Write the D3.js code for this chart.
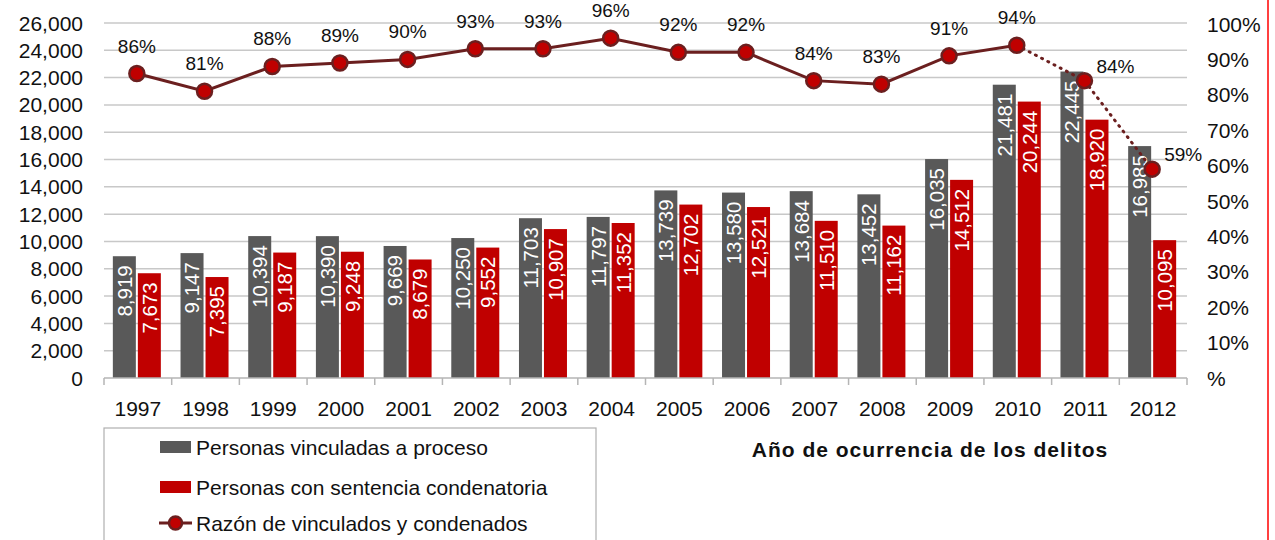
<!DOCTYPE html>
<html>
<head>
<meta charset="utf-8">
<script src="https://cdn.jsdelivr.net/npm/d3@7"></script>
<style>
  html, body { margin: 0; padding: 0; background: #fff; }
  svg { display: block; font-family: "Liberation Sans", Arial, sans-serif; }
</style>
</head>
<body>
<svg id="chart" width="1275" height="540"></svg>
<script>
// Años de ocurrencia de los delitos
const years = ["1997","1998","1999","2000","2001","2002","2003","2004","2005","2006","2007","2008","2009","2010","2011","2012"];
// Personas vinculadas a proceso
const vinculadas = [8919, 9147, 10394, 10390, 9669, 10250, 11703, 11797, 13739, 13580, 13684, 13452, 16035, 21481, 22445, 16985];
// Personas con sentencia condenatoria
const condenadas = [7673, 7395, 9187, 9248, 8679, 9552, 10907, 11352, 12702, 12521, 11510, 11162, 14512, 20244, 18920, 10095];
// Razón de vinculados y condenados (%)
const razon = [86, 81, 88, 89, 90, 93, 93, 96, 92, 92, 84, 83, 91, 94, 84, 59];
// Índice desde el cual el tramo de línea es punteado
const dottedFrom = 13;

const leftTicks = d3.range(0, 26001, 2000);
const rightTicks = d3.range(0, 101, 10);
const seriesNames = ["Personas vinculadas a proceso", "Personas con sentencia condenatoria", "Razón de vinculados y condenados"];
const axisTitle = "Año de ocurrencia de los delitos";

const GREY = "#595959", RED = "#c00000", LINE = "#6b1f1f", GRID = "#c8c8c8";

const svg = d3.select("#chart");
const plot = { left: 104, right: 1187, top: 23, bottom: 378 };

const x = d3.scaleBand().domain(years).range([plot.left, plot.right]).paddingInner(0).paddingOuter(0);
const y = d3.scaleLinear().domain([0, 26000]).range([plot.bottom, plot.top]);
const yr = d3.scaleLinear().domain([0, 100]).range([plot.bottom, plot.top + 1]);

// Horizontal gridlines
svg.append("g").selectAll("line").data(leftTicks.slice(1)).join("line")
  .attr("x1", plot.left).attr("x2", plot.right)
  .attr("y1", d => y(d)).attr("y2", d => y(d))
  .attr("stroke", GRID).attr("stroke-width", 1.5);

// Left axis labels
svg.append("g").selectAll("text").data(leftTicks).join("text")
  .attr("x", 83).attr("y", d => y(d)).attr("dy", "0.36em")
  .attr("text-anchor", "end").attr("font-size", 21).attr("fill", "#111")
  .text(d => d3.format(",")(d));

// Right axis labels
svg.append("g").selectAll("text").data(rightTicks).join("text")
  .attr("x", 1207).attr("y", d => yr(d)).attr("dy", "0.36em")
  .attr("text-anchor", "start").attr("font-size", 21).attr("fill", "#111")
  .text(d => d === 0 ? "%" : d + "%");

// Bars with rotated value labels
const barW = 23, gap = 2;
const gBars = svg.append("g");
years.forEach((yy, i) => {
  const cx = x(yy) + x.bandwidth() / 2 - 1;
  const items = [
    { v: vinculadas[i], x0: cx - gap / 2 - barW, fill: GREY },
    { v: condenadas[i], x0: cx + gap / 2, fill: RED }
  ];
  items.forEach(it => {
    gBars.append("rect")
      .attr("x", it.x0).attr("y", y(it.v))
      .attr("width", barW).attr("height", y(0) - y(it.v))
      .attr("fill", it.fill);
    gBars.append("text")
      .attr("transform", `translate(${it.x0 + barW / 2},${y(it.v) + 9}) rotate(-90)`)
      .attr("text-anchor", "end").attr("dy", "0.36em")
      .attr("font-size", 20.5).attr("fill", "#fff")
      .text(d3.format(",")(it.v));
  });
});

// Baseline and category ticks
svg.append("line").attr("x1", plot.left).attr("x2", plot.right)
  .attr("y1", plot.bottom).attr("y2", plot.bottom)
  .attr("stroke", "#b5b5b5").attr("stroke-width", 1.5);
svg.append("g").selectAll("line").data(d3.range(years.length + 1)).join("line")
  .attr("x1", i => plot.left + i * x.bandwidth()).attr("x2", i => plot.left + i * x.bandwidth())
  .attr("y1", plot.bottom).attr("y2", plot.bottom + 7)
  .attr("stroke", "#b5b5b5").attr("stroke-width", 1.5);

// Year labels
svg.append("g").selectAll("text").data(years).join("text")
  .attr("x", d => x(d) + x.bandwidth() / 2).attr("y", 416)
  .attr("text-anchor", "middle").attr("font-size", 21).attr("fill", "#111")
  .text(d => d);

// Ratio line (solid, then dotted for the last stretch)
const pts = years.map((yy, i) => [x(yy) + x.bandwidth() / 2 - 1, yr(razon[i])]);
const line = d3.line();
svg.append("path").attr("d", line(pts.slice(0, dottedFrom + 1)))
  .attr("fill", "none").attr("stroke", LINE).attr("stroke-width", 3);
svg.append("path").attr("d", line(pts.slice(dottedFrom)))
  .attr("fill", "none").attr("stroke", LINE).attr("stroke-width", 3)
  .attr("stroke-dasharray", "1,6").attr("stroke-linecap", "round");
svg.append("g").selectAll("circle").data(pts).join("circle")
  .attr("cx", d => d[0]).attr("cy", d => d[1]).attr("r", 7.5)
  .attr("fill", RED).attr("stroke", LINE).attr("stroke-width", 2.5);

// Ratio labels
svg.append("g").selectAll("text").data(razon).join("text")
  .attr("x", (d, i) => i >= 14 ? pts[i][0] + 12 : pts[i][0])
  .attr("y", (d, i) => i >= 14 ? pts[i][1] - 8 : pts[i][1] - 21)
  .attr("text-anchor", (d, i) => i >= 14 ? "start" : "middle")
  .attr("font-size", 19).attr("fill", "#111")
  .text(d => d + "%");

// Legend
const lg = svg.append("g");
lg.append("rect").attr("x", 104).attr("y", 428).attr("width", 492).attr("height", 130)
  .attr("fill", "#fff").attr("stroke", "#b0b0b0").attr("stroke-width", 1.2);
const rowY = [447, 487, 523];
lg.append("rect").attr("x", 160).attr("y", rowY[0] - 6).attr("width", 31).attr("height", 12).attr("fill", GREY);
lg.append("rect").attr("x", 160).attr("y", rowY[1] - 6).attr("width", 31).attr("height", 12).attr("fill", RED);
lg.append("line").attr("x1", 159).attr("x2", 192).attr("y1", rowY[2]).attr("y2", rowY[2])
  .attr("stroke", LINE).attr("stroke-width", 3);
lg.append("circle").attr("cx", 175.5).attr("cy", rowY[2]).attr("r", 6.5)
  .attr("fill", RED).attr("stroke", LINE).attr("stroke-width", 2.5);
lg.selectAll("text.lab").data(seriesNames).join("text").attr("class", "lab")
  .attr("x", 196).attr("y", (d, i) => rowY[i]).attr("dy", "0.36em")
  .attr("font-size", 21).attr("fill", "#111").text(d => d);

// Axis title
svg.append("text").attr("x", 930).attr("y", 457).attr("text-anchor", "middle")
  .attr("font-size", 21).attr("font-weight", "bold").attr("letter-spacing", 1).attr("fill", "#111")
  .text(axisTitle);

// Right frame edge
svg.append("line").attr("x1", 1268).attr("x2", 1268).attr("y1", 0).attr("y2", 540)
  .attr("stroke", "#ff0000").attr("stroke-width", 1.5);
</script>
</body>
</html>
